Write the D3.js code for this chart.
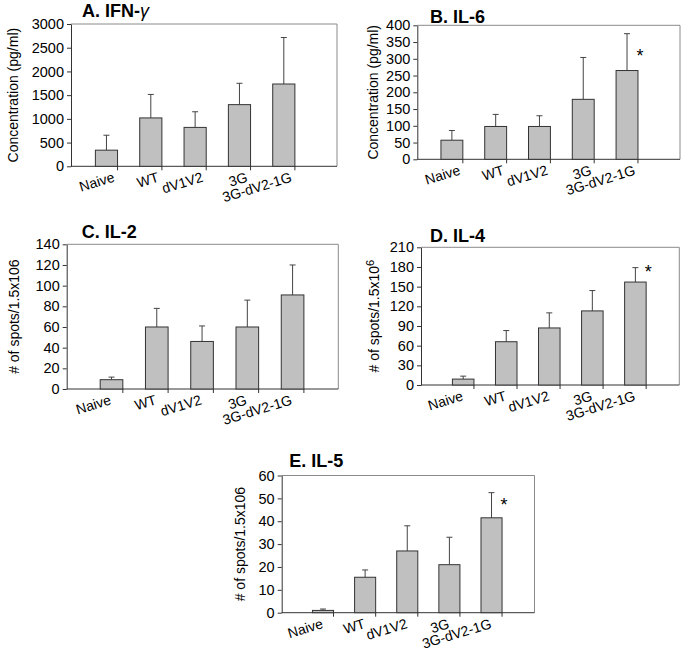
<!DOCTYPE html>
<html><head><meta charset="utf-8">
<script src="https://cdn.jsdelivr.net/npm/d3@7/dist/d3.min.js"></script>
<style>
body{margin:0;background:#fff}
svg{display:block}
text{font-family:Arial,"Liberation Sans",sans-serif;fill:#000}
</style>
</head><body>
<svg id="chart" width="686" height="656"></svg>
<script>
// ---------- data ----------
const categories = ["Naive", "WT", "dV1V2", "3G", "3G-dV2-1G"];

const ifngMean = [340, 1020, 820, 1300, 1735];
const ifngSD   = [315, 495, 330, 450, 980];

const il6Mean = [57, 98, 98, 179, 265];
const il6SD   = [29, 36, 32, 125, 110];

const il2Mean = [9, 60, 46, 60, 91];
const il2SD   = [2.5, 18, 15, 26, 29];

const il4Mean = [9, 66, 87, 113, 157];
const il4SD   = [4.5, 17, 23, 31, 22];

const il5Mean = [1, 15.5, 27, 21, 41.5];
const il5SD   = [0.6, 3.2, 11, 12, 11];

// significance marks (value where "*" is drawn), null = none
const il6Star = [null, null, null, null, 320];
const il4Star = [null, null, null, null, 178];
const il5Star = [null, null, null, null, 48.5];

const ifngTicks = [0, 500, 1000, 1500, 2000, 2500, 3000];
const il6Ticks  = [0, 50, 100, 150, 200, 250, 300, 350, 400];
const il2Ticks  = [0, 20, 40, 60, 80, 100, 120, 140];
const il4Ticks  = [0, 30, 60, 90, 120, 150, 180, 210];
const il5Ticks  = [0, 10, 20, 30, 40, 50, 60];

// ---------- layout ----------
const panels = [
  {title: "A. IFN-", greek: "\u03B3", yLabel: "Concentration (pg/ml)", sup: null,
   mean: ifngMean, sd: ifngSD, star: null, ticks: ifngTicks,
   ax: 71, rx: 337, ty: 24, by: 166.3, barOff: 0.55, labX: 18, titleX: 82, titleY: 17},
  {title: "B. IL-6", greek: null, yLabel: "Concentration (pg/ml)", sup: null,
   mean: il6Mean, sd: il6SD, star: il6Star, ticks: il6Ticks,
   ax: 417.3, rx: 680, ty: 25.3, by: 159.3, barOff: 0.54, labX: 378, titleX: 430, titleY: 22.5},
  {title: "C. IL-2", greek: null, yLabel: "# of spots/1.5x106", sup: null,
   mean: il2Mean, sd: il2SD, star: null, ticks: il2Ticks,
   ax: 66.7, rx: 338.3, ty: 244.3, by: 389, barOff: 0.74, labX: 19, titleX: 81.7, titleY: 238.3},
  {title: "D. IL-4", greek: null, yLabel: "# of spots/1.5x10", sup: "6",
   mean: il4Mean, sd: il4SD, star: il4Star, ticks: il4Ticks,
   ax: 421, rx: 679.3, ty: 247.3, by: 385, barOff: 0.73, labX: 379, titleX: 430, titleY: 241.7},
  {title: "E. IL-5", greek: null, yLabel: "# of spots/1.5x106", sup: null,
   mean: il5Mean, sd: il5SD, star: il5Star, ticks: il5Ticks,
   ax: 281.7, rx: 534.5, ty: 475.5, by: 612.7, barOff: 0.73, labX: 245, titleX: 289.3, titleY: 467.3}
];

const svg = d3.select("#chart");
const frameColor = "#8a8a8a";
const darkColor = "#333";
const fontFam = "Arial, 'Liberation Sans', sans-serif";

panels.forEach(p => {
  const g = svg.append("g");
  const slots = categories.concat(["__empty"]);
  const x = d3.scaleBand().domain(slots).range([p.ax, p.rx]).padding(0);
  const step = x.step();
  const yMax = p.ticks[p.ticks.length - 1];
  const y = d3.scaleLinear().domain([0, yMax]).range([p.by, p.ty]);

  // frame (top + right)
  g.append("path")
    .attr("d", `M${p.ax},${y(yMax)}H${p.rx}V${y(0)}`)
    .attr("fill", "none").attr("stroke", frameColor).attr("stroke-width", 1);

  // y axis
  const yAxis = d3.axisLeft(y).tickValues(p.ticks).tickFormat(d3.format("d"))
    .tickSize(4).tickSizeOuter(0).tickPadding(3);
  const ya = g.append("g").attr("transform", `translate(${p.ax},0)`).call(yAxis);
  ya.select(".domain").attr("stroke", darkColor);
  ya.selectAll(".tick line").attr("stroke", darkColor);
  ya.selectAll(".tick text").attr("font-size", 14.5).attr("font-family", fontFam).attr("fill", "#000");

  // x axis line
  g.append("line").attr("x1", p.ax).attr("x2", p.rx).attr("y1", y(0)).attr("y2", y(0))
    .attr("stroke", darkColor).attr("stroke-width", 1);

  const barW = step / 2;
  const barX = c => x(c) + p.barOff * step;

  // x ticks at the right edge of each bar
  g.selectAll(".xt").data(categories).enter().append("line")
    .attr("x1", c => barX(c) + barW).attr("x2", c => barX(c) + barW)
    .attr("y1", y(0)).attr("y2", y(0) + 4)
    .attr("stroke", darkColor);

  // error bars (upper only)
  categories.forEach((c, i) => {
    const cx = barX(c) + barW / 2;
    const top = y(p.mean[i] + p.sd[i]);
    g.append("line").attr("x1", cx).attr("x2", cx).attr("y1", y(p.mean[i])).attr("y2", top)
      .attr("stroke", "#444").attr("stroke-width", 1);
    g.append("line").attr("x1", cx - 3).attr("x2", cx + 3).attr("y1", top).attr("y2", top)
      .attr("stroke", "#444").attr("stroke-width", 1);
  });

  // bars
  g.selectAll(".bar").data(categories).enter().append("rect")
    .attr("x", c => barX(c)).attr("width", barW)
    .attr("y", (c, i) => y(p.mean[i])).attr("height", (c, i) => y(0) - y(p.mean[i]))
    .attr("fill", "#c0c0c0").attr("stroke", darkColor).attr("stroke-width", 1);

  // category labels (rotated)
  g.selectAll(".xl").data(categories).enter().append("text")
    .attr("text-anchor", "end").attr("font-size", 14)
    .attr("transform", c => `translate(${x(c) + step},${y(0) + 15}) rotate(-17)`)
    .text(c => c);

  // stars
  if (p.star) {
    categories.forEach((c, i) => {
      if (p.star[i] == null) return;
      g.append("text").attr("text-anchor", "middle").attr("font-size", 18)
        .attr("x", barX(c) + barW + 2).attr("y", y(p.star[i]) + 9.5)
        .text("*");
    });
  }

  // y axis title
  const yt = g.append("text").attr("text-anchor", "middle").attr("font-size", 14)
    .attr("transform", `translate(${p.labX},${(y(0) + y(yMax)) / 2}) rotate(-90)`)
    .text(p.yLabel);
  if (p.sup) yt.append("tspan").attr("dy", -5).attr("font-size", 11).text(p.sup);

  // panel title
  const tt = g.append("text").attr("x", p.titleX).attr("y", p.titleY)
    .attr("font-size", 18).attr("font-weight", "bold").text(p.title);
  if (p.greek) tt.append("tspan").attr("font-style", "italic").attr("font-weight", "normal").text(p.greek);
});
</script>
</body></html>
